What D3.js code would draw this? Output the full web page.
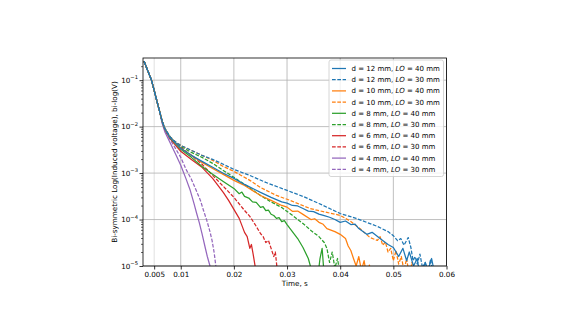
<!DOCTYPE html>
<html>
<head>
<meta charset="utf-8">
<script src="https://cdn.jsdelivr.net/npm/d3@7/dist/d3.min.js"></script>
<style>
  html, body { margin: 0; padding: 0; background: #fff; }
  svg { display: block; font-family: "DejaVu Sans", sans-serif; }
</style>
</head>
<body>
<svg id="chart" width="580" height="330"></svg>
<script>
// ---- data: time (s) and induced voltage (V) ----
// shared onset of all discharge curves
const headT = [0.0031, 0.0038, 0.0045, 0.005, 0.0055, 0.006, 0.0065];
const headV = [0.255, 0.16, 0.1, 0.06, 0.036, 0.0218, 0.0131];

const t_d12_lo40 = [0.007,0.008,0.009,0.010,0.012,0.014,0.016,0.018,0.020,0.022,0.025,0.027,0.029,0.030,0.031,0.032,0.033,0.034,0.035,0.036,0.037,0.038,0.039,0.040,0.041,0.042,0.0428,0.0435,0.045,0.046,0.0475,0.049,0.050,0.051,0.0518,0.0525,0.053,0.0538,0.0545,0.055,0.056,0.0565,0.0572,0.058];
const v_d12_lo40 = [0.009,0.0058,0.0045,0.0034,0.00241,0.00179,0.00133,0.00099,0.00077,0.00057,0.000384,0.0003,0.00024,0.000225,0.000201,0.000196,0.000173,0.000152,0.000148,0.000131,0.000121,0.000112,0.0001,0.000087,0.000093,0.000078,0.00008,0.000064,0.000048,0.000053,0.000039,0.000029,0.000025,0.000016,0.000024,0.000013,0.00002,0.00001,0.0000145,0.000006,0.0000119,0.000008,0.0000145,0.000005];

const t_d12_lo30 = [0.007,0.008,0.009,0.010,0.012,0.014,0.016,0.018,0.020,0.023,0.026,0.030,0.033,0.036,0.040,0.043,0.045,0.047,0.049,0.050,0.0508,0.0514,0.052,0.0528,0.0533,0.0537,0.0541,0.0545,0.055,0.0555,0.056,0.0565,0.057,0.0575,0.058];
const v_d12_lo30 = [0.0092,0.006,0.0047,0.00395,0.00308,0.00241,0.00197,0.00155,0.0012,0.00089,0.00063,0.000424,0.000315,0.000222,0.000135,0.000106,0.000087,0.000071,0.000055,0.000045,0.000035,0.000039,0.000028,0.000041,0.000025,0.000013,0.000016,0.000011,0.000018,0.000009,0.000012,0.000007,0.000014,0.000006,0.000004];

const t_d10_lo40 = [0.007,0.008,0.009,0.010,0.012,0.014,0.016,0.018,0.020,0.022,0.025,0.027,0.029,0.030,0.031,0.032,0.033,0.0345,0.0352,0.036,0.0368,0.0375,0.039,0.040,0.041,0.0415,0.042,0.0425,0.043,0.0435,0.044,0.0445,0.045,0.0455,0.046];
const v_d10_lo40 = [0.009,0.0058,0.0045,0.0034,0.00241,0.0017,0.00126,0.00094,0.000697,0.000543,0.00033,0.000258,0.000201,0.000185,0.00015,0.000152,0.000129,0.0001,0.000104,0.000087,0.000079,0.000064,0.000055,0.000048,0.000039,0.000027,0.0000216,0.0000145,0.00001,0.000016,0.000008,0.000013,0.000006,0.0000105,0.000004];

const t_d10_lo30 = [0.007,0.008,0.009,0.010,0.012,0.014,0.016,0.018,0.020,0.023,0.025,0.028,0.0306,0.0343,0.0375,0.040,0.042,0.0437,0.0456,0.047,0.0475,0.048,0.0485,0.049,0.0495,0.050,0.0505,0.051,0.0515,0.052,0.0525,0.053,0.0535,0.054];
const v_d10_lo30 = [0.0092,0.006,0.0047,0.00395,0.00308,0.00241,0.00188,0.00139,0.00109,0.000697,0.00049,0.00033,0.000258,0.000173,0.000142,0.000123,0.000091,0.000064,0.000041,0.0000355,0.000043,0.000028,0.000033,0.00002,0.000024,0.000013,0.0000216,0.000011,0.000016,0.000008,0.0000145,0.000006,0.000012,0.000004];

const t_d8_lo40 = [0.007,0.008,0.009,0.010,0.012,0.014,0.016,0.018,0.020,0.021,0.0215,0.022,0.0228,0.0235,0.0242,0.025,0.0255,0.026,0.0265,0.027,0.0275,0.028,0.0285,0.029,0.0295,0.030,0.0305,0.031,0.032,0.033,0.034,0.0345,0.035,0.0358,0.0362,0.0366,0.037];
const v_d8_lo40 = [0.009,0.0057,0.0043,0.00325,0.00218,0.00139,0.00094,0.00066,0.000468,0.00036,0.00039,0.000315,0.00029,0.00024,0.000235,0.000182,0.00019,0.000155,0.00016,0.00013,0.000122,0.000106,0.00011,0.00009,0.000095,0.000078,0.000065,0.000055,0.000039,0.000025,0.0000145,0.000009,0.000005,0.000006,0.0000145,0.000024,0.000006];

const t_d8_lo30 = [0.007,0.008,0.009,0.010,0.012,0.014,0.016,0.018,0.020,0.022,0.025,0.027,0.029,0.031,0.033,0.0345,0.036,0.037,0.0375,0.038,0.0385,0.039,0.0395,0.040];
const v_d8_lo30 = [0.0092,0.006,0.0047,0.00376,0.00279,0.00218,0.00162,0.00114,0.00081,0.00057,0.00033,0.00024,0.000182,0.000123,0.000082,0.000058,0.000043,0.000032,0.000024,0.0000119,0.00002,0.000009,0.0000145,0.000006];

const t_d6_lo40 = [0.007,0.008,0.009,0.010,0.012,0.014,0.016,0.018,0.019,0.020,0.021,0.022,0.0225,0.023,0.0233,0.0237,0.024,0.0242];
const v_d6_lo40 = [0.0088,0.0055,0.004,0.00295,0.00197,0.00133,0.00077,0.000384,0.000258,0.000165,0.000106,0.000053,0.000043,0.000024,0.000029,0.000016,0.0000098,0.000005];

const t_d6_lo30 = [0.007,0.008,0.009,0.010,0.012,0.014,0.016,0.018,0.020,0.022,0.023,0.024,0.025,0.0255,0.026,0.0265,0.027,0.0275,0.0278,0.028,0.0283];
const v_d6_lo30 = [0.009,0.0058,0.0045,0.00358,0.00241,0.00155,0.00089,0.00052,0.0003,0.000157,0.000117,0.000078,0.00005,0.000043,0.000032,0.0000355,0.000024,0.000016,0.00002,0.000012,0.000006];

// the 4 mm curves leave the shared onset slightly earlier
const t_d4_lo40 = [0.0065,0.007,0.008,0.009,0.010,0.011,0.0118,0.0125,0.013,0.0135,0.014,0.0146,0.015,0.0155,0.0158];
const v_d4_lo40 = [0.0118,0.0078,0.0045,0.0026,0.00147,0.00075,0.00042,0.00022,0.000135,0.000085,0.00005,0.000025,0.000016,0.00001,0.000007];

const t_d4_lo30 = [0.0065,0.007,0.008,0.009,0.010,0.011,0.012,0.013,0.0137,0.0143,0.0149,0.0155,0.0159,0.0163,0.0166,0.0169];
const v_d4_lo30 = [0.0125,0.0085,0.0053,0.0034,0.00218,0.0012,0.00074,0.0004,0.000258,0.000155,0.000096,0.000055,0.000035,0.000019,0.00001,0.000006];

const legendLabels = [
  ["12", "40"], ["12", "30"], ["10", "40"], ["10", "30"], ["8", "40"],
  ["8", "30"], ["6", "40"], ["6", "30"], ["4", "40"], ["4", "30"]
];
const seriesColors = ["#1f77b4","#1f77b4","#ff7f0e","#ff7f0e","#2ca02c","#2ca02c","#d62728","#d62728","#9467bd","#9467bd"];
const seriesDashed = [false,true,false,true,false,true,false,true,false,true];

const xTickValues = [0.005, 0.01, 0.02, 0.03, 0.04, 0.05, 0.06];
const xTickLabels = ["0.005", "0.01", "0.02", "0.03", "0.04", "0.05", "0.06"];
const yTickValues = [1e-5, 1e-4, 1e-3, 1e-2, 1e-1];
const yTickExps = ["\u22125", "\u22124", "\u22123", "\u22122", "\u22121"];

// ---- build series ----
function withHead(t, v) {
  return headT.map((d, i) => [d, headV[i]]).concat(t.map((d, i) => [d, v[i]]));
}
function withShortHead(t, v) {
  return headT.slice(0, 6).map((d, i) => [d, headV[i]]).concat(t.map((d, i) => [d, v[i]]));
}
const series = [
  withHead(t_d12_lo40, v_d12_lo40),
  withHead(t_d12_lo30, v_d12_lo30),
  withHead(t_d10_lo40, v_d10_lo40),
  withHead(t_d10_lo30, v_d10_lo30),
  withHead(t_d8_lo40, v_d8_lo40),
  withHead(t_d8_lo30, v_d8_lo30),
  withHead(t_d6_lo40, v_d6_lo40),
  withHead(t_d6_lo30, v_d6_lo30),
  withShortHead(t_d4_lo40, v_d4_lo40),
  withShortHead(t_d4_lo30, v_d4_lo30)
];

// ---- layout ----
const svg = d3.select("#chart");
const plot = { left: 143, right: 446.5, top: 58, bottom: 266 };

const x = d3.scaleLinear().domain([0.0029, 0.06]).range([plot.left, plot.right]);
const y = d3.scaleLog().domain([1e-5, 0.3]).range([plot.bottom, plot.top]);

// grid
const grid = svg.append("g");
grid.selectAll("line.vx").data(xTickValues).join("line")
  .attr("x1", d => x(d)).attr("x2", d => x(d))
  .attr("y1", plot.top).attr("y2", plot.bottom)
  .attr("stroke", d => d === 0.005 ? "#d8d8d8" : "#b0b0b0")
  .attr("stroke-width", 0.8);
grid.selectAll("line.hy").data(yTickValues).join("line")
  .attr("x1", plot.left).attr("x2", plot.right)
  .attr("y1", d => y(d)).attr("y2", d => y(d))
  .attr("stroke", "#b0b0b0").attr("stroke-width", 0.8);

// curves
svg.append("clipPath").attr("id", "plotclip").append("rect")
  .attr("x", plot.left).attr("y", plot.top)
  .attr("width", plot.right - plot.left).attr("height", plot.bottom - plot.top);

const line = d3.line().x(d => x(d[0])).y(d => y(d[1]));
const curves = svg.append("g").attr("clip-path", "url(#plotclip)");
// draw lower curves first so the long-lived ones sit on top
[9, 8, 7, 6, 5, 4, 3, 2, 1, 0].forEach(i => {
  curves.append("path")
    .attr("d", line(series[i]))
    .attr("fill", "none")
    .attr("stroke", seriesColors[i])
    .attr("stroke-width", 1.25)
    .attr("stroke-linejoin", "round")
    .attr("stroke-dasharray", seriesDashed[i] ? "3.7,1.6" : null);
});

// axes
const xAxis = d3.axisBottom(x).tickValues(xTickValues)
  .tickFormat((d, i) => xTickLabels[i]).tickSize(3.5).tickPadding(2);
const gx = svg.append("g").attr("transform", `translate(0,${plot.bottom})`).call(xAxis);
gx.select(".domain").remove();
gx.selectAll("line").attr("stroke", "#000").attr("stroke-width", 0.8);
gx.selectAll("text").attr("font-size", 7.2).attr("fill", "#000")
  .attr("font-family", "DejaVu Sans, sans-serif");

const yAxis = d3.axisLeft(y).tickValues(yTickValues).tickFormat("").tickSize(3.5);
const gy = svg.append("g").attr("transform", `translate(${plot.left},0)`).call(yAxis);
gy.select(".domain").remove();
gy.selectAll("line").attr("stroke", "#000").attr("stroke-width", 0.8);

// minor log ticks
const minorVals = [];
for (let e = -5; e <= -1; e++) for (let m = 2; m <= 9; m++) {
  const v = m * Math.pow(10, e);
  if (v <= 0.3) minorVals.push(v);
}
const yMinor = d3.axisLeft(y).tickValues(minorVals).tickFormat("").tickSize(2);
const gym = svg.append("g").attr("transform", `translate(${plot.left},0)`).call(yMinor);
gym.select(".domain").remove();
gym.selectAll("line").attr("stroke", "#000").attr("stroke-width", 0.6);

// y tick labels with superscript exponents
const ylab = svg.append("g");
yTickValues.forEach((v, i) => {
  const t = ylab.append("text")
    .attr("x", plot.left - 5).attr("y", y(v) + 2.5)
    .attr("text-anchor", "end").attr("font-size", 7.2).attr("fill", "#000");
  t.append("tspan").text("10");
  t.append("tspan").attr("dy", -3.2).attr("font-size", 5.2).text(yTickExps[i]);
});

// frame
svg.append("rect")
  .attr("x", plot.left).attr("y", plot.top)
  .attr("width", plot.right - plot.left).attr("height", plot.bottom - plot.top)
  .attr("fill", "none").attr("stroke", "#000").attr("stroke-width", 0.8);

// axis titles
svg.append("text")
  .attr("x", (plot.left + plot.right) / 2).attr("y", 286)
  .attr("text-anchor", "middle").attr("font-size", 7.2).attr("fill", "#000")
  .text("Time, s");
svg.append("text")
  .attr("transform", `translate(117,${(plot.top + plot.bottom) / 2}) rotate(-90)`)
  .attr("text-anchor", "middle").attr("font-size", 7.2).attr("fill", "#000")
  .text("Bi-symmetric Log(Induced voltage), bi-log(V)");

// legend
const lg = svg.append("g");
lg.append("rect")
  .attr("x", 329).attr("y", 60).attr("width", 114.5).attr("height", 116.5)
  .attr("rx", 2).attr("ry", 2)
  .attr("fill", "#fff").attr("fill-opacity", 0.8)
  .attr("stroke", "#cccccc").attr("stroke-width", 0.8);
legendLabels.forEach((lab, i) => {
  const yy = 68.5 + i * 11.2;
  lg.append("line")
    .attr("x1", 332).attr("x2", 346).attr("y1", yy).attr("y2", yy)
    .attr("stroke", seriesColors[i]).attr("stroke-width", 1.25)
    .attr("stroke-dasharray", seriesDashed[i] ? "3.7,1.6" : null);
  const tx = lg.append("text").attr("x", 351.5).attr("y", yy + 2.5)
    .attr("font-size", 7).attr("fill", "#000");
  tx.append("tspan").text(`d = ${lab[0]} mm, `);
  tx.append("tspan").attr("font-style", "italic").text("LO");
  tx.append("tspan").text(` = ${lab[1]} mm`);
});
</script>
</body>
</html>
